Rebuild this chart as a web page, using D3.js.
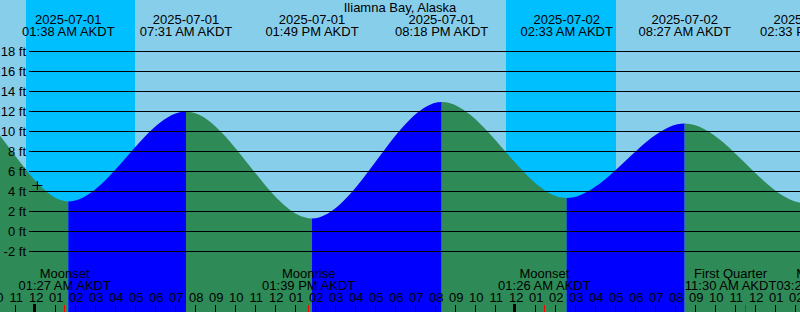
<!DOCTYPE html>
<html>
<head>
<meta charset="utf-8">
<script src="https://cdn.jsdelivr.net/npm/d3@7"></script>
<style>
  body { margin: 0; background: #fff; }
  svg { display: block; font-family: "Liberation Sans", Arial, sans-serif; font-size: 13px; }
</style>
</head>
<body>
<div class="chart"></div>
<script>
var station = "Iliamna Bay, Alaska";
var zone = "AKDT";

// high and low water; the first two and the last two fall outside the picture
var tideTimes = ["2025-06-30 13:40", "2025-06-30 20:00", "2025-07-01 01:38", "2025-07-01 07:31",
                 "2025-07-01 13:49", "2025-07-01 20:18", "2025-07-02 02:33", "2025-07-02 08:27",
                 "2025-07-02 14:33", "2025-07-02 20:50"];
var tideHeights = [1.5, 13.0, 3.0, 12.0, 1.3, 12.95, 3.35, 10.8, 2.8, 12.5];

var sunsetTimes = ["2025-06-30 23:31", "2025-07-01 23:31"];
var sunriseTimes = ["2025-07-01 04:58", "2025-07-02 05:01"];

var moonTimes = ["2025-07-01 01:27", "2025-07-01 13:39", "2025-07-02 01:26", "2025-07-02 11:30", "2025-07-02 15:22"];
var moonEvents = ["Moonset", "Moonrise", "Moonset", "First Quarter", "Moonrise"];

var levelTicks = [-2, 0, 2, 4, 6, 8, 10, 12, 14, 16, 18];

var markTime = "2025-07-01 00:05";
var markLevel = 4.6;

var viewStart = "2025-06-30 22:13";
var viewEnd = "2025-07-02 14:13";

var width = 800, height = 312;

var parse = d3.timeParse("%Y-%m-%d %H:%M");
var fmtDate = d3.timeFormat("%Y-%m-%d");
var fmtTime = d3.timeFormat("%I:%M %p " + zone);
var fmtHour = d3.timeFormat("%I");

var tides = tideTimes.map(function(t, i) { return { time: parse(t), height: tideHeights[i] }; });
var moons = moonTimes.map(function(t, i) { return { time: parse(t), name: moonEvents[i] }; });

var x = d3.scaleTime()
    .domain([parse(viewStart), parse(viewEnd)])
    .range([0, width]);

var y = d3.scaleLinear()
    .domain([-2, 18])
    .range([251.5, 51.5]);

function inView(d) { return x(d.time) > 0 && x(d.time) < width + 60; }

var svg = d3.select(".chart").append("svg")
    .attr("width", width)
    .attr("height", height);

svg.append("rect")
    .attr("width", width)
    .attr("height", height)
    .style("fill", "#87ceeb");

// night
svg.selectAll(".night")
    .data(sunsetTimes)
  .enter().append("rect")
    .attr("class", "night")
    .attr("x", function(d) { return x(parse(d)); })
    .attr("y", 0)
    .attr("width", function(d, i) { return x(parse(sunriseTimes[i])) - x(parse(d)); })
    .attr("height", height)
    .style("fill", "#00bfff");

// water
var area = d3.area()
    .x(function(d) { return x(d.time); })
    .y0(height)
    .y1(function(d) { return y(d.height); })
    .curve(d3.curveMonotoneX);

svg.append("clipPath")
    .attr("id", "water")
  .append("path")
    .attr("d", area(tides));

svg.append("g")
    .attr("clip-path", "url(#water)")
  .selectAll("rect")
    .data(tides.slice(0, -1))
  .enter().append("rect")
    .attr("x", function(d) { return x(d.time); })
    .attr("y", 0)
    .attr("width", function(d, i) { return x(tides[i + 1].time) - x(d.time); })
    .attr("height", height)
    .style("fill", function(d, i) { return tides[i + 1].height > d.height ? "#0000ff" : "#2e8b57"; });

// level lines
svg.selectAll(".level")
    .data(levelTicks)
  .enter().append("line")
    .attr("class", "level")
    .attr("x1", 29)
    .attr("x2", width)
    .attr("y1", function(d) { return y(d); })
    .attr("y2", function(d) { return y(d); })
    .style("stroke", "#000")
    .style("shape-rendering", "crispEdges");

svg.selectAll(".level-label")
    .data(levelTicks)
  .enter().append("text")
    .attr("class", "level-label")
    .attr("x", 26)
    .attr("y", function(d) { return y(d) + 4.5; })
    .style("text-anchor", "end")
    .text(function(d) { return d + " ft"; });

// mark
var mx = x(parse(markTime)), my = y(markLevel);
svg.append("path")
    .attr("d", "M" + (mx - 5) + "," + my + "H" + (mx + 5) + "M" + mx + "," + (my - 4.5) + "V" + (my + 4.5))
    .style("stroke", "#000")
    .style("fill", "none");

svg.append("text")
    .attr("x", width / 2)
    .attr("y", 12)
    .style("text-anchor", "middle")
    .text(station);

// two-line labels, pushed left when they would run into the next one
function labels(data, rowY, first, second) {
  var g = svg.selectAll(null)
      .data(data)
    .enter().append("g");
  g.append("text")
      .attr("y", rowY)
      .style("text-anchor", "middle")
      .text(first);
  g.append("text")
      .attr("y", rowY + 12)
      .style("text-anchor", "middle")
      .text(second);

  var nodes = g.nodes();
  var left = Infinity;
  for (var i = nodes.length - 1; i >= 0; i--) {
    var w = nodes[i].getBBox().width;
    var cx = x(data[i].time);
    if (cx + w / 2 > left) cx = left - w / 2;
    left = cx - w / 2;
    d3.select(nodes[i]).attr("transform", "translate(" + cx + ",0)");
  }
}

labels(tides.filter(inView), 24,
    function(d) { return fmtDate(d.time); },
    function(d) { return fmtTime(d.time); });

labels(moons.filter(inView), 278,
    function(d) { return d.name; },
    function(d) { return fmtTime(d.time); });

// hours
var hours = d3.timeHour.range(d3.timeHour.offset(x.domain()[0], -1), d3.timeHour.offset(x.domain()[1], 1));

svg.selectAll(".hour")
    .data(hours)
  .enter().append("text")
    .attr("class", "hour")
    .attr("x", function(d) { return x(d) + 0.5; })
    .attr("y", 302)
    .style("text-anchor", "middle")
    .text(fmtHour);

svg.selectAll(".hour-tick")
    .data(hours)
  .enter().append("rect")
    .attr("class", "hour-tick")
    .attr("x", function(d) { return d.getHours() === 0 ? Math.floor(x(d)) - 2 : Math.floor(x(d)); })
    .attr("y", function(d) { return d.getHours() === 0 ? 304 : 305; })
    .attr("width", function(d) { return d.getHours() === 0 ? 3 : 1; })
    .attr("height", function(d) { return d.getHours() === 0 ? 8 : 7; })
    .style("fill", "#000");

svg.selectAll(".moon-tick")
    .data(moons)
  .enter().append("rect")
    .attr("class", "moon-tick")
    .attr("x", function(d) { return Math.floor(x(d.time)); })
    .attr("y", 305)
    .attr("width", 1)
    .attr("height", 7)
    .style("fill", "#ff0000");
</script>
</body>
</html>
